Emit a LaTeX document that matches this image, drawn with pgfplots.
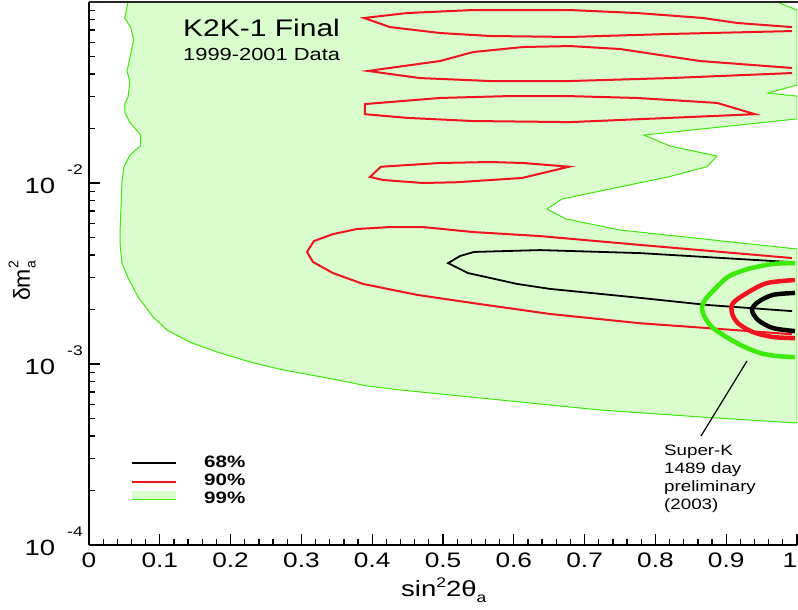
\documentclass[border=0pt]{standalone}
\usepackage{pgfplots}
\pgfplotsset{compat=1.18}
\usepackage{fontspec}
\setmainfont{Liberation Sans}[FakeStretch=1.25]
\newfontfamily\plainfont{Liberation Sans}
\definecolor{kfill}{RGB}{217,253,204}
\definecolor{kgreen}{RGB}{60,235,10}
\definecolor{kred}{RGB}{240,20,30}
\begin{document}
\begin{tikzpicture}
\path[use as bounding box] (-89pt,-65pt) rectangle (709pt,545pt);
\begin{axis}[
  scale only axis, width=708pt, height=543pt,
  at={(0,0)}, anchor=south west,
  xmin=0, xmax=1, ymin=1e-4, ymax=1e-1, ymode=log,
  axis lines*=left, axis on top,
  axis line style={line width=2.2pt, black},
  every tick/.style={black, line width=1.3pt},
  tick align=inside,
  major tick length=11pt, minor tick length=6pt,
  xtick={0,0.1,0.2,0.3,0.4,0.5,0.6,0.7,0.8,0.9,1},
  xticklabels={0,0.1,0.2,0.3,0.4,0.5,0.6,0.7,0.8,0.9,{\makebox[0pt]{\hspace{-14pt}1}}},
  minor x tick num=4,
  ytick={1e-4,1e-3,1e-2},
  minor ytick={2e-4,3e-4,4e-4,5e-4,6e-4,7e-4,8e-4,9e-4,2e-3,3e-3,4e-3,5e-3,6e-3,7e-3,8e-3,9e-3,2e-2,3e-2,4e-2,5e-2,6e-2,7e-2,8e-2,9e-2},
  yticklabels={{10\hspace{12pt}\raisebox{19pt}{\fontsize{14}{14}\selectfont -4}},{10\hspace{12pt}\raisebox{19pt}{\fontsize{14}{14}\selectfont -3}},{10\hspace{12pt}\raisebox{19pt}{\fontsize{14}{14}\selectfont -2}}},
  xticklabel style={anchor=north, inner sep=0pt, yshift=-8pt, font=\fontsize{21}{21}\selectfont},
  yticklabel style={anchor=base east, inner sep=0pt, xshift=-6pt, yshift=-10pt, font=\fontsize{22}{22}\selectfont},
]
% 99% region
\addplot[draw=kgreen, line width=1pt, fill=kfill] coordinates {
(0.0551,0.1) (0.0504,0.0816) (0.0593,0.0718) (0.0631,0.0617) (0.0593,0.0523)
(0.0537,0.0416) (0.0579,0.0361) (0.0551,0.0299) (0.0504,0.0273) (0.0508,0.0244)
(0.0575,0.0217) (0.0730,0.0184) (0.0725,0.0160) (0.0579,0.0143) (0.0494,0.0123)
(0.0466,0.0101) (0.0452,0.00737) (0.0438,0.00529) (0.0442,0.00443) (0.0466,0.00361)
(0.0551,0.00299) (0.0692,0.00235) (0.0904,0.00182) (0.1102,0.00154) (0.1427,0.00132)
(0.1808,0.001165) (0.2274,0.001026) (0.274,0.000927) (0.3446,0.000826) (0.3927,0.000756)
(0.4393,0.000719) (0.5805,0.000633) (0.7218,0.000557) (0.863,0.000510) (1,0.000472)
(1,0.00432) (0.75,0.0055) (0.6737,0.00633) (0.6469,0.00718) (0.6681,0.00816)
(0.8178,0.0108) (0.8729,0.0123) (0.887,0.0141) (0.8206,0.0160) (0.7839,0.0184)
(1,0.0226) (1,0.0302) (0.959,0.0314) (1,0.0348) (1,0.0903) (0.9718,0.1)
} -- cycle;
% 90% islands
\addplot[draw=kred, line width=2pt] coordinates {
(0.993,0.0727) (0.9153,0.0766) (0.8672,0.0816) (0.774,0.0869) (0.6794,0.0903) (0.5424,0.0903)
(0.4492,0.0869) (0.3884,0.0816) (0.4251,0.0727) (0.4958,0.0674) (0.5664,0.0649) (0.6794,0.0641)
(0.8206,0.0666) (0.993,0.0691)};
\addplot[draw=kred, line width=2pt] coordinates {
(0.993,0.0432) (0.863,0.0472) (0.75,0.055) (0.6794,0.0571) (0.613,0.0564) (0.5424,0.0529)
(0.4958,0.0472) (0.3941,0.0416) (0.4675,0.0380) (0.5664,0.0366) (0.6794,0.0366) (0.8206,0.0380)
(0.993,0.0405)};
\addplot[draw=kred, line width=2pt] coordinates {
(0.3898,0.0273) (0.4958,0.0295) (0.5904,0.0302) (0.6794,0.0302) (0.774,0.0295) (0.887,0.0277)
(0.9407,0.0240) (0.8206,0.0229) (0.6794,0.0217) (0.5424,0.0220) (0.4492,0.0229) (0.3898,0.0240)} -- cycle;
\addplot[draw=kred, line width=2pt] coordinates {
(0.3969,0.0108) (0.4124,0.0123) (0.4958,0.0129) (0.5664,0.01306) (0.613,0.0129) (0.678,0.0123)
(0.6116,0.01066) (0.5198,0.0101) (0.4718,0.0100) (0.4153,0.01039)} -- cycle;
\addplot[draw=kred, line width=2pt] coordinates {
(0.993,0.00385) (0.7782,0.00455) (0.637,0.00509) (0.5424,0.00536) (0.4718,0.00571) (0.4251,0.00571)
(0.3785,0.00557) (0.3446,0.00522) (0.3178,0.00478) (0.3079,0.00416) (0.3164,0.00366) (0.3446,0.00318)
(0.387,0.00277) (0.4633,0.00241) (0.5424,0.00217) (0.6511,0.00189) (0.7782,0.00168) (0.8729,0.00158)
(0.993,0.00146)};
% 68%
\addplot[draw=black, line width=1.8pt] coordinates {
(0.9901,0.00366) (0.9195,0.00380) (0.7782,0.00410) (0.637,0.00426) (0.5904,0.00421) (0.5438,0.00416)
(0.524,0.00395) (0.5071,0.00361) (0.5353,0.00318) (0.5664,0.00299) (0.6045,0.00277) (0.6511,0.00260)
(0.7782,0.00232) (0.8729,0.00212) (0.993,0.00196)};
% Super-K
\addplot[draw=kgreen, line width=4.5pt, smooth] coordinates {
(0.9972,0.00361) (0.9661,0.00357) (0.9308,0.00335) (0.9025,0.00303) (0.8842,0.00260) (0.8701,0.00226)
(0.8658,0.00204) (0.8701,0.00180) (0.8814,0.00158) (0.9054,0.00137) (0.9266,0.00124) (0.9477,0.00115)
(0.9689,0.00111) (0.9972,0.00109)};
\addplot[draw=kred, line width=4.5pt, smooth] coordinates {
(0.9972,0.00291) (0.9576,0.00280) (0.9294,0.00247) (0.9096,0.00217) (0.9082,0.00191) (0.9167,0.00168)
(0.9379,0.00150) (0.9661,0.00141) (0.9972,0.00139)};
\addplot[draw=black, line width=4.5pt, smooth] coordinates {
(0.9972,0.00247) (0.9661,0.00241) (0.9449,0.00220) (0.9364,0.00199) (0.9449,0.00175) (0.9661,0.00158)
(0.9972,0.00152)};
% pointer
\addplot[draw=black, line width=1.2pt] coordinates {(0.9294,0.00104) (0.8644,0.000400)};
\end{axis}
\draw[line width=1.5pt, black!85] (0pt,543pt) -- (709pt,543pt);
% title
\node[anchor=base west, inner sep=0pt] at (94pt,508pt) {\fontsize{24}{24}\selectfont K2K-1 Final};
\node[anchor=base west, inner sep=0pt] at (94pt,484pt) {\fontsize{17.5}{17.5}\selectfont 1999-2001 Data};
% legend
\draw[black, line width=1.8pt] (43pt,82pt) -- (87pt,82pt);
\draw[kred, line width=1.8pt] (43pt,63pt) -- (87pt,63pt);
\fill[kfill] (43pt,45pt) rectangle (87pt,54pt);
\draw[kgreen, line width=1pt] (43pt,45pt) -- (87pt,45pt);
\node[anchor=base west, inner sep=0pt] at (115pt,77pt) {\fontsize{16.5}{16.5}\selectfont\bfseries 68\%};
\node[anchor=base west, inner sep=0pt] at (115pt,59pt) {\fontsize{16.5}{16.5}\selectfont\bfseries 90\%};
\node[anchor=base west, inner sep=0pt] at (115pt,41pt) {\fontsize{16.5}{16.5}\selectfont\bfseries 99\%};
% Super-K annotation
\node[anchor=base west, inner sep=0pt] at (575pt,89pt) {\fontsize{15}{15}\selectfont Super-K};
\node[anchor=base west, inner sep=0pt] at (575pt,71pt) {\fontsize{15}{15}\selectfont 1489 day};
\node[anchor=base west, inner sep=0pt] at (575pt,53pt) {\fontsize{15}{15}\selectfont preliminary};
\node[anchor=base west, inner sep=0pt] at (575pt,35pt) {\fontsize{15}{15}\selectfont (2003)};
% axis labels
\node[anchor=base west, inner sep=0pt] at (312pt,-52pt) {\fontsize{22}{22}\selectfont sin\raisebox{0.42em}{\fontsize{14}{14}\selectfont 2}2θ\raisebox{-0.25em}{\fontsize{14}{14}\selectfont a}};
\node[rotate=90, anchor=base, inner sep=0pt] at (-59pt,264pt) {\plainfont\fontsize{23}{23}\selectfont δm\rlap{\raisebox{0.5em}{\fontsize{14}{14}\selectfont 2}}\raisebox{-0.25em}{\fontsize{14}{14}\selectfont a}};
\end{tikzpicture}
\end{document}
